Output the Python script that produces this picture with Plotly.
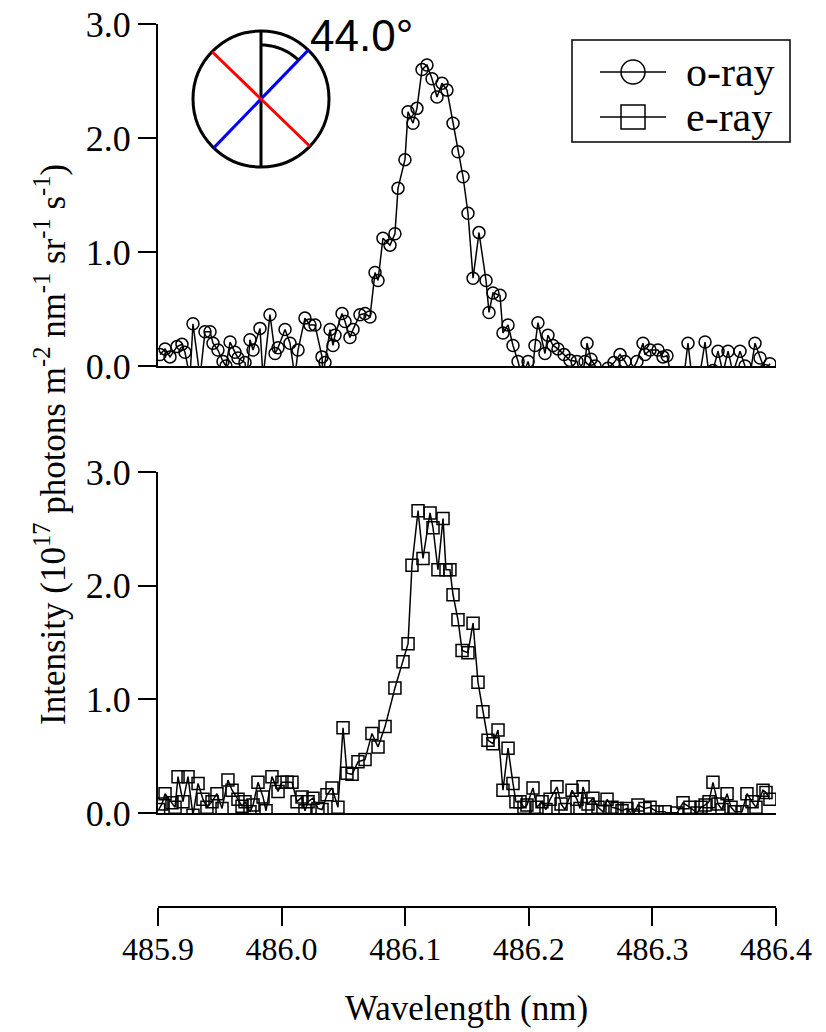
import math
import plotly.graph_objects as go

# ---- data -------------------------------------------------------------
wavelength_o = [
    485.9016, 485.9057, 485.9097, 485.9154, 485.9194, 485.9218, 485.9259, 485.9283, 485.9340, 485.9380,
    485.9421, 485.9445, 485.9485, 485.9526, 485.9550, 485.9583, 485.9623, 485.9647, 485.9704, 485.9720,
    485.9744, 485.9769, 485.9825, 485.9850, 485.9906, 485.9947, 485.9971, 486.0028, 486.0068, 486.0108,
    486.0133, 486.0189, 486.0230, 486.0270, 486.0327, 486.0335, 486.0351, 486.0392, 486.0416, 486.0432,
    486.0489, 486.0513, 486.0553, 486.0578, 486.0634, 486.0675, 486.0715, 486.0756, 486.0780, 486.0820,
    486.0877, 486.0917, 486.0942, 486.0998, 486.1023, 486.1063, 486.1095, 486.1136, 486.1176, 486.1217,
    486.1257, 486.1298, 486.1338, 486.1387, 486.1427, 486.1468, 486.1508, 486.1549, 486.1597, 486.1654,
    486.1678, 486.1710, 486.1767, 486.1791, 486.1832, 486.1872, 486.1913, 486.1945, 486.1994, 486.2026,
    486.2050, 486.2074, 486.2131, 486.2155, 486.2196, 486.2236, 486.2285, 486.2333, 486.2390, 486.2422,
    486.2455, 486.2471, 486.2503, 486.2536, 486.2584, 486.2641, 486.2689, 486.2738, 486.2778, 486.2827,
    486.2875, 486.2924, 486.2940, 486.2981, 486.3045, 486.3086, 486.3118, 486.3159, 486.3207, 486.3256,
    486.3288, 486.3320, 486.3377, 486.3426, 486.3458, 486.3490, 486.3531, 486.3571, 486.3612, 486.3652,
    486.3709, 486.3749, 486.3790, 486.3830, 486.3871, 486.3911, 486.3951,
]
intensity_o = [
    0.10, 0.15, 0.08, 0.17, 0.19, 0.12, -0.10, 0.37, -0.10, 0.30,
    0.30, 0.20, 0.14, 0.04, 0.00, 0.21, 0.12, 0.07, 0.03, -0.10,
    0.23, 0.14, 0.33, -0.10, 0.45, 0.11, 0.16, 0.32, 0.20, -0.10,
    0.14, 0.42, 0.36, 0.36, 0.08, -0.10, 0.03, 0.32, 0.18, 0.27,
    0.46, 0.39, 0.25, 0.32, 0.45, 0.46, 0.43, 0.82, 0.75, 1.12,
    1.06, 1.16, 1.56, 1.81, 2.23, 2.13, 2.26, 2.60, 2.64, 2.52,
    2.36, 2.48, 2.42, 2.13, 1.88, 1.66, 1.34, 0.77, 1.17, 0.75,
    0.47, 0.64, 0.62, 0.29, 0.36, 0.18, 0.04, -0.10, 0.04, -0.10,
    0.18, 0.38, 0.11, 0.27, 0.18, 0.15, 0.10, 0.05, 0.04, -0.10,
    0.04, 0.20, 0.06, 0.00, -0.08, -0.02, 0.03, 0.10, 0.04, -0.06,
    0.04, 0.20, 0.10, 0.14, 0.14, 0.08, 0.09, -0.12, -0.14, -0.08,
    0.20, -0.10, -0.12, 0.21, -0.08, -0.04, 0.13, -0.06, 0.13, -0.06,
    0.13, 0.00, -0.08, 0.20, 0.07, -0.04, 0.02,
]

wavelength_e = [
    485.9005, 485.9032, 485.9057, 485.9113, 485.9138, 485.9162, 485.9202, 485.9243, 485.9283, 485.9324,
    485.9364, 485.9396, 485.9437, 485.9477, 485.9518, 485.9566, 485.9599, 485.9647, 485.9680, 485.9704,
    485.9744, 485.9769, 485.9809, 485.9850, 485.9874, 485.9922, 485.9971, 486.0003, 486.0044, 486.0084,
    486.0125, 486.0165, 486.0189, 486.0214, 486.0254, 486.0294, 486.0327, 486.0367, 486.0408, 486.0456,
    486.0497, 486.0529, 486.0570, 486.0618, 486.0675, 486.0731, 486.0780, 486.0837, 486.0917, 486.0982,
    486.1023, 486.1055, 486.1104, 486.1144, 486.1201, 486.1225, 486.1265, 486.1306, 486.1330, 486.1362,
    486.1387, 486.1427, 486.1460, 486.1508, 486.1549, 486.1589, 486.1629, 486.1670, 486.1710, 486.1751,
    486.1791, 486.1832, 486.1872, 486.1896, 486.1929, 486.1961, 486.1985, 486.2034, 486.2066, 486.2107,
    486.2139, 486.2172, 486.2228, 486.2261, 486.2293, 486.2350, 486.2390, 486.2414, 486.2439, 486.2479,
    486.2519, 486.2560, 486.2600, 486.2633, 486.2673, 486.2714, 486.2754, 486.2794, 486.2843, 486.2883,
    486.2940, 486.2981, 486.3037, 486.3102, 486.3159, 486.3199, 486.3248, 486.3304, 486.3361, 486.3393,
    486.3426, 486.3458, 486.3490, 486.3531, 486.3563, 486.3604, 486.3636, 486.3668, 486.3725, 486.3765,
    486.3806, 486.3838, 486.3895, 486.3919, 486.3951,
]
intensity_e = [
    0.03, 0.08, 0.17, 0.09, 0.05, 0.32, 0.10, 0.32, -0.02, 0.26,
    0.12, 0.05, 0.10, 0.17, 0.04, 0.29, 0.20, 0.12, 0.06, 0.10,
    0.01, 0.07, 0.27, 0.14, 0.02, 0.32, 0.19, 0.27, 0.27, 0.27,
    0.10, 0.14, 0.02, 0.10, 0.13, 0.04, 0.03, 0.16, 0.22, 0.05,
    0.75, 0.35, 0.34, 0.45, 0.47, 0.70, 0.58, 0.76, 1.10, 1.33,
    1.49, 2.18, 2.66, 2.24, 2.64, 2.51, 2.14, 2.59, 2.14, 2.14,
    1.92, 1.70, 1.43, 1.41, 1.67, 1.15, 0.89, 0.64, 0.61, 0.73,
    0.20, 0.57, 0.26, 0.10, 0.10, 0.05, 0.07, 0.22, 0.05, 0.10,
    0.03, 0.12, 0.23, 0.08, 0.03, 0.20, 0.12, 0.04, 0.23, 0.08,
    0.13, 0.05, 0.01, 0.12, 0.05, 0.04, 0.02, 0.04, -0.02, 0.07,
    0.04, 0.05, 0.01, 0.01, -0.05, 0.00, 0.09, 0.05, 0.00, 0.05,
    0.07, 0.10, 0.27, 0.08, 0.03, 0.17, 0.05, 0.01, 0.01, 0.17,
    0.10, 0.05, 0.20, 0.18, 0.12,
]
assert len(wavelength_o) == len(intensity_o)
assert len(wavelength_e) == len(intensity_e)

x_range = [485.9, 486.4]
x_ticks = [485.9, 486.0, 486.1, 486.2, 486.3, 486.4]
x_ticktext = ["485.9", "486.0", "486.1", "486.2", "486.3", "486.4"]
y_ticks = [0, 1, 2, 3]
y_ticktext = ["0.0", "1.0", "2.0", "3.0"]
series_names = ["o-ray", "e-ray"]
polarizer_angle = 44.0  # degrees from vertical

# ---- page geometry (pixels) -------------------------------------------
W, H = 826, 1032


def fx(px):
    return px / W


def fy(py):
    return 1 - py / H


SERIF = "Liberation Serif, Times New Roman, serif"
SANS = "Liberation Sans, Arial, sans-serif"
BLACK = "black"

fig = go.Figure()

fig.add_trace(go.Scatter(
    x=wavelength_o, y=intensity_o, name=series_names[0], mode="lines+markers",
    line=dict(color=BLACK, width=1.5),
    marker=dict(symbol="circle-open", size=12, color=BLACK, line=dict(width=1.5)),
    xaxis="x", yaxis="y", showlegend=False,
))
fig.add_trace(go.Scatter(
    x=wavelength_e, y=intensity_e, name=series_names[1], mode="lines+markers",
    line=dict(color=BLACK, width=1.5),
    marker=dict(symbol="square-open", size=12, color=BLACK, line=dict(width=1.5)),
    xaxis="x2", yaxis="y2", showlegend=False,
))
# carrier for the shared wavelength axis drawn under both panels
fig.add_trace(go.Scatter(
    x=x_range, y=[None, None], xaxis="x3", yaxis="y2",
    showlegend=False, hoverinfo="skip",
))

x_dom = [fx(158), fx(776)]
panel_x = dict(
    domain=x_dom, range=x_range, showline=True, linecolor=BLACK, linewidth=2,
    ticks="", showticklabels=False, showgrid=False, zeroline=False, automargin=False,
)
panel_y = dict(
    range=[0, 3.0], tickvals=y_ticks, ticktext=y_ticktext, ticks="outside",
    ticklen=18, tickwidth=2, tickcolor=BLACK, showline=True, linecolor=BLACK,
    linewidth=2, showgrid=False, zeroline=False, automargin=False,
    tickfont=dict(family=SERIF, size=36, color=BLACK), ticklabelstandoff=0,
)

fig.update_layout(
    width=W, height=H, autosize=False,
    margin=dict(l=0, r=0, t=0, b=0, pad=0, autoexpand=False),
    paper_bgcolor="white", plot_bgcolor="white",
    showlegend=False,
    xaxis=dict(**panel_x, anchor="y"),
    yaxis=dict(**panel_y, domain=[fy(366), fy(24)], anchor="x"),
    xaxis2=dict(**panel_x, anchor="y2"),
    yaxis2=dict(**panel_y, domain=[fy(813), fy(472)], anchor="x2"),
    xaxis3=dict(
        domain=x_dom, range=x_range, overlaying="x2", anchor="free", position=fy(907),
        side="bottom", showline=True, linecolor=BLACK, linewidth=2,
        tickvals=x_ticks, ticktext=x_ticktext, ticks="outside", ticklen=18,
        tickwidth=2, tickcolor=BLACK, showgrid=False, zeroline=False, automargin=False,
        tickfont=dict(family=SERIF, size=32, color=BLACK), ticklabelstandoff=-4,
    ),
)

annotations = [
    dict(text="Wavelength (nm)", x=fx(466), y=fy(1008), xref="paper", yref="paper",
         showarrow=False, font=dict(family=SERIF, size=35, color=BLACK),
         xanchor="center", yanchor="middle"),
    dict(text="Intensity (10<sup>17</sup> photons m<sup>-2</sup> nm<sup>-1</sup> "
              "sr<sup>-1</sup> s<sup>-1</sup>)",
         x=fx(50), y=fy(445), xref="paper", yref="paper", textangle=-90,
         showarrow=False, font=dict(family=SERIF, size=35, color=BLACK),
         xanchor="center", yanchor="middle"),
    dict(text=f"{polarizer_angle:.1f}°", x=fx(308), y=fy(36), xref="paper", yref="paper",
         showarrow=False, font=dict(family=SANS, size=44, color=BLACK),
         xanchor="left", yanchor="middle"),
]

shapes = []

# ---- legend box ---------------------------------------------------------
shapes.append(dict(type="rect", xref="paper", yref="paper",
                   x0=fx(572), x1=fx(790), y0=fy(142), y1=fy(40),
                   line=dict(color=BLACK, width=1.5), fillcolor="white", layer="above"))
legend_rows = [(72, "circle"), (117, "square")]
for (row_y, sym), name in zip(legend_rows, series_names):
    shapes.append(dict(type="line", xref="paper", yref="paper",
                       x0=fx(600), x1=fx(666), y0=fy(row_y), y1=fy(row_y),
                       line=dict(color=BLACK, width=1.5), layer="above"))
    r = 12
    kind = "circle" if sym == "circle" else "rect"
    shapes.append(dict(type=kind, xref="paper", yref="paper",
                       x0=fx(633 - r), x1=fx(633 + r), y0=fy(row_y + r), y1=fy(row_y - r),
                       line=dict(color=BLACK, width=1.5), layer="above"))
    annotations.append(dict(text=name, x=fx(684), y=fy(row_y), xref="paper", yref="paper",
                            showarrow=False, xanchor="left", yanchor="middle",
                            font=dict(family=SERIF, size=42, color=BLACK)))

# ---- polarizer orientation inset --------------------------------------
cx, cy, R = 261, 99, 68
shapes.append(dict(type="circle", xref="paper", yref="paper",
                   x0=fx(cx - R), x1=fx(cx + R), y0=fy(cy + R), y1=fy(cy - R),
                   line=dict(color=BLACK, width=3)))
shapes.append(dict(type="line", xref="paper", yref="paper",
                   x0=fx(cx), x1=fx(cx), y0=fy(cy - R), y1=fy(cy + R),
                   line=dict(color=BLACK, width=3)))


def diameter(angle_deg, color):
    a = math.radians(angle_deg)
    dx, dy = R * math.sin(a), -R * math.cos(a)
    return dict(type="line", xref="paper", yref="paper",
                x0=fx(cx - dx), y0=fy(cy - dy), x1=fx(cx + dx), y1=fy(cy + dy),
                line=dict(color=color, width=3))


shapes.append(diameter(polarizer_angle, "#0000ff"))
shapes.append(diameter(polarizer_angle + 90, "#ff0000"))

r_arc = 54
pts = []
n = 24
for i in range(n + 1):
    a = math.radians(polarizer_angle * i / n)
    pts.append((fx(cx + r_arc * math.sin(a)), fy(cy - r_arc * math.cos(a))))
arc_path = "M " + " L ".join(f"{x:.5f},{y:.5f}" for x, y in pts)
shapes.append(dict(type="path", xref="paper", yref="paper", path=arc_path,
                   line=dict(color=BLACK, width=3)))

fig.update_layout(shapes=shapes, annotations=annotations)

fig.write_html("out.html")
